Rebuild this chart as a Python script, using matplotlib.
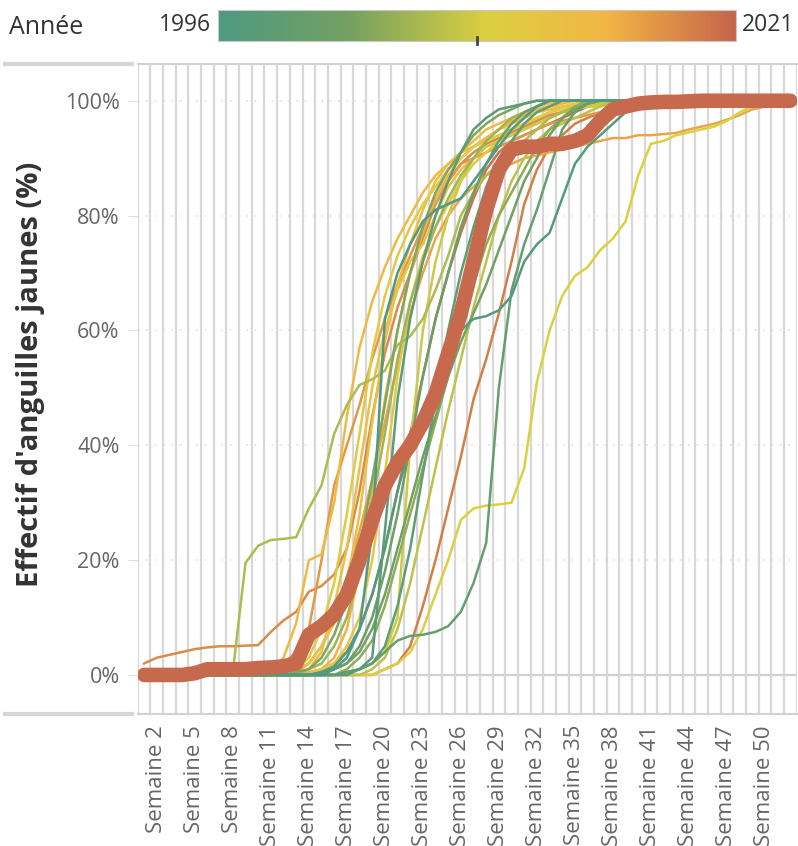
import numpy as np
import matplotlib
matplotlib.use("Agg")
import matplotlib.pyplot as plt
from matplotlib.colors import LinearSegmentedColormap
from matplotlib.lines import Line2D

plt.rcParams['font.family'] = ['Open Sans', 'DejaVu Sans']

# semaines 1..52
weeks = list(range(1, 53))
tick_weeks = list(range(2, 51, 3))
tick_labels = [f"Semaine {w}" for w in tick_weeks]

years = list(range(1996, 2022))

# effectif cumulé (%) par semaine, une liste par année
y1996 = [0, 0, 0, 0, 0, 0, 0, 0, 0, 0, 0, 0, 0, 0, 0, 1, 3, 8, 25, 62, 70, 75, 79, 81, 82, 83,
         86, 89, 92, 95, 97, 99, 100, 100, 100, 100, 100, 100, 100, 100, 100, 100, 100, 100, 100, 100, 100, 100, 100, 100, 100, 100]
y1997 = [0, 0, 0, 0, 0, 0, 0, 0, 0, 0, 0, 0, 0, 0, 0.5, 1.5, 4, 8, 14, 22, 32, 40, 46, 51, 56, 60,
         62, 62.5, 63.5, 66, 72, 75, 77, 83, 89, 92, 94, 96, 98, 99, 100, 100, 100, 100, 100, 100, 100, 100, 100, 100, 100, 100]
y1998 = [0, 0, 0, 0, 0, 0, 0, 0, 0, 0, 0, 0, 0, 0, 0, 0, 0, 1, 3, 25, 48, 62, 72, 80, 86, 91,
         95, 97, 98.5, 99, 99.5, 100, 100, 100, 100, 100, 100, 100, 100, 100, 100, 100, 100, 100, 100, 100, 100, 100, 100, 100, 100, 100]
y1999 = [0, 0, 0, 0, 0, 0, 0, 0, 0, 0, 0, 0, 0, 0, 0, 0, 0.5, 1, 2, 5, 12, 22, 35, 48, 60, 70,
         78, 85, 90, 93, 96, 98, 99, 100, 100, 100, 100, 100, 100, 100, 100, 100, 100, 100, 100, 100, 100, 100, 100, 100, 100, 100]
y2000 = [0, 0, 0, 0, 0, 0, 0, 0, 0, 0, 0, 0, 0, 0, 0, 0, 0.5, 1, 2, 4, 6, 6.8, 7, 7.5, 8.5, 11,
         16, 23, 50, 67, 75, 81, 88, 95, 98, 99.5, 100, 100, 100, 100, 100, 100, 100, 100, 100, 100, 100, 100, 100, 100, 100, 100]
y2001 = [0, 0, 0, 0, 0, 0, 0, 0, 0, 0, 0, 0, 0, 0, 0, 1, 2, 5, 10, 18, 28, 40, 52, 62, 70, 78,
         84, 89, 93, 96, 98, 99, 100, 100, 100, 100, 100, 100, 100, 100, 100, 100, 100, 100, 100, 100, 100, 100, 100, 100, 100, 100]
y2002 = [0, 0, 0, 0, 0, 0, 0, 0, 0, 0, 0, 0, 0, 0, 0.5, 1, 2, 4, 8, 14, 22, 30, 38, 45, 52, 58,
         63, 68, 74, 80, 86, 90, 94, 97, 98.5, 99.5, 100, 100, 100, 100, 100, 100, 100, 100, 100, 100, 100, 100, 100, 100, 100, 100]
y2003 = [0, 0, 0, 0, 0, 0, 0, 0, 0, 0, 0, 0, 0.5, 1, 3, 7, 13, 22, 34, 47, 60, 70, 78, 84, 88, 91,
         94, 96, 97.5, 98.5, 99.5, 100, 100, 100, 100, 100, 100, 100, 100, 100, 100, 100, 100, 100, 100, 100, 100, 100, 100, 100, 100, 100]
y2004 = [0, 0, 0, 0, 0, 0, 0, 0, 0, 0, 0, 0, 0, 0, 0, 0, 1, 3, 6, 12, 20, 28, 36, 44, 52, 60,
         68, 75, 80, 84, 88, 92, 95, 97, 99, 100, 100, 100, 100, 100, 100, 100, 100, 100, 100, 100, 100, 100, 100, 100, 100, 100]
y2005 = [0, 0, 0, 0, 0, 0, 0, 0, 0, 0, 0, 0, 0, 1, 2, 5, 10, 18, 30, 42, 55, 65, 72, 78, 83, 87,
         90, 93, 95, 97, 98, 99, 100, 100, 100, 100, 100, 100, 100, 100, 100, 100, 100, 100, 100, 100, 100, 100, 100, 100, 100, 100]
y2006 = [0, 0, 0, 0, 0, 0, 0, 0.5, 19.5, 22.5, 23.5, 23.7, 24, 29, 33, 42, 47, 50.5, 51.5, 53, 57.5, 59, 62, 67, 73, 80,
         84, 87, 89, 91, 93, 95, 97, 98, 99, 99.5, 100, 100, 100, 100, 100, 100, 100, 100, 100, 100, 100, 100, 100, 100, 100, 100]
y2007 = [0, 0, 0, 0, 0, 0, 0, 0, 0, 0, 0, 0, 0, 0, 0, 0, 0, 0, 1, 3, 8, 16, 26, 36, 46, 55,
         64, 72, 80, 86, 90, 93, 95, 96, 97, 98, 99, 100, 100, 100, 100, 100, 100, 100, 100, 100, 100, 100, 100, 100, 100, 100]
y2008 = [0, 0, 0, 0, 0, 0, 0, 0, 0, 0, 0, 0, 0, 0, 0, 0, 0, 1, 2, 4, 10, 40, 60, 72, 80, 86,
         90, 92, 93, 94, 95, 96, 97, 98, 98.5, 99, 99.5, 100, 100, 100, 100, 100, 100, 100, 100, 100, 100, 100, 100, 100, 100, 100]
y2009 = [0, 0, 0, 0, 0, 0, 0, 0, 0, 0, 0, 0, 0, 0, 0, 0, 0, 0, 0, 1, 2, 4, 8, 14, 20, 27,
         29, 29.5, 29.7, 30, 36, 51, 60, 66, 69.5, 71, 74, 76, 79, 87, 92.5, 93, 94, 94.5, 95, 95.5, 96.5, 98, 99, 99.5, 100, 100]
y2010 = [0, 0, 0, 0, 0, 0, 0, 0, 0, 0, 0, 0.5, 1, 3, 8, 16, 28, 42, 56, 66, 73, 78, 82, 85, 88, 90,
         92, 93, 94, 95, 96, 97, 98, 98.5, 99, 99, 99, 99.5, 99.5, 99.5, 100, 100, 100, 100, 100, 100, 100, 100, 100, 100, 100, 100]
y2011 = [0, 0, 0, 0, 0, 0, 0, 0, 0, 0, 0, 0, 0, 0, 1, 2, 5, 10, 20, 35, 52, 65, 73, 78, 82, 86,
         89, 91, 93, 95, 96, 97, 98, 99, 99.5, 100, 100, 100, 100, 100, 100, 100, 100, 100, 100, 100, 100, 100, 100, 100, 100, 100]
y2012 = [0, 0, 0, 0, 0, 0, 0, 0, 0, 0, 0, 0, 0.5, 1, 4, 12, 22, 36, 50, 60, 67, 72, 75, 80, 85, 88,
         90, 92, 93, 94, 95, 96, 97, 98, 98.5, 99, 99.5, 100, 100, 100, 100, 100, 100, 100, 100, 100, 100, 100, 100, 100, 100, 100]
y2013 = [0, 0, 0, 0, 0, 0, 0, 0, 0, 0, 0, 0.5, 1, 2, 5, 9, 16, 28, 44, 58, 68, 75, 81, 86, 89, 91,
         93, 95, 96, 97, 98, 99, 99.5, 100, 100, 100, 100, 100, 100, 100, 100, 100, 100, 100, 100, 100, 100, 100, 100, 100, 100, 100]
y2014 = [0, 0, 0, 0, 0, 0, 0, 0, 0, 0, 1, 3, 9, 20, 21, 30, 45, 57, 65, 71, 76, 80, 84, 87, 89, 91,
         92, 93.5, 95, 96, 97, 98, 98.5, 99, 99, 99.5, 99.5, 100, 100, 100, 100, 100, 100, 100, 100, 100, 100, 100, 100, 100, 100, 100]
y2015 = [0, 0, 0, 0, 0, 0, 0, 0, 0, 0, 0, 0, 0, 0.5, 1, 3, 8, 18, 32, 48, 60, 70, 77, 83, 87, 90,
         92, 93.5, 95, 96.5, 97.5, 98.5, 99, 99.5, 100, 100, 100, 100, 100, 100, 100, 100, 100, 100, 100, 100, 100, 100, 100, 100, 100, 100]
y2016 = [0, 0, 0, 0, 0, 0, 0, 0, 0, 0, 0, 0, 0.5, 2, 5, 10, 17, 25, 34, 44, 54, 63, 70, 76, 80, 83,
         85, 87, 88, 89, 90, 90.5, 91, 91.5, 92, 92.5, 93, 93.5, 93.5, 94, 94, 94.2, 94.4, 95, 95.5, 96, 96.7, 97.5, 98.5, 99, 99.5, 100]
y2017 = [0, 0, 0, 0, 0, 0, 0, 0, 0, 0.5, 1, 2, 4, 8, 20, 33, 40, 47, 55, 62, 68, 73, 78, 82, 86, 89,
         90, 91, 92, 93, 94, 95, 96, 96.5, 97, 97.5, 98, 98, 98.5, 98.5, 99, 99, 99, 99.5, 99.5, 99.5, 99.7, 100, 100, 100, 100, 100]
y2018 = [2, 3, 3.5, 4, 4.5, 4.8, 5, 5, 5.1, 5.2, 7.5, 9.5, 11, 14.5, 15.5, 17.5, 22, 32, 45, 56, 64, 70, 76, 82, 86, 89,
         91, 92.5, 93.5, 94.5, 95.5, 96.5, 97.5, 98, 98.5, 99, 99.3, 99.5, 99.7, 99.8, 100, 100, 100, 100, 100, 100, 100, 100, 100, 100, 100, 100]
y2019 = [0, 0, 0, 0, 0, 0, 0, 0, 0, 0, 0, 0, 0, 0, 0, 0, 0, 0, 0, 1, 2, 5, 12, 20, 29, 38,
         48, 55, 63, 72, 82, 88, 92, 94, 96, 97, 98, 99, 99.5, 100, 100, 100, 100, 100, 100, 100, 100, 100, 100, 100, 100, 100]
y2020 = [0, 0, 0, 0, 0, 0, 0, 0, 0, 0, 0, 0, 0, 0, 1, 2, 4, 8, 14, 22, 32, 42, 52, 62, 70, 77,
         83, 88, 91, 93, 94, 95, 96, 97, 98, 99, 99.5, 100, 100, 100, 100, 100, 100, 100, 100, 100, 100, 100, 100, 100, 100, 100]
y2021 = [0, 0, 0, 0, 0.3, 1, 1, 1, 1, 1.2, 1.3, 1.5, 2, 7, 8.5, 10.5, 14, 20, 27, 33, 37, 40, 44, 49, 56, 63,
         72, 81, 88, 91.5, 92, 92, 92.5, 92.5, 93, 94, 96.5, 98.5, 99, 99.5, 99.7, 99.8, 99.8, 99.9, 100, 100, 100, 100, 100, 100, 100, 100]

series = [y1996, y1997, y1998, y1999, y2000, y2001, y2002, y2003, y2004, y2005, y2006, y2007, y2008,
          y2009, y2010, y2011, y2012, y2013, y2014, y2015, y2016, y2017, y2018, y2019, y2020, y2021]

cmap = LinearSegmentedColormap.from_list(
    "annee", [(0.0, "#4e9a82"), (0.25, "#74a062"), (0.52, "#dcd040"),
              (0.75, "#f3b645"), (1.0, "#c5654b")])

W, H = 798, 846
fig = plt.figure(figsize=(W / 100, H / 100), dpi=100)

# zone du graphique (en pixels)
x0, x1 = 137.8, 796.6
ytop, ybot = 64, 714
ax = fig.add_axes([x0 / W, 1 - ybot / H, (x1 - x0) / W, (ybot - ytop) / H])
ax.set_xlim(0.5, 52.5)
ax.set_ylim(-6.8, 106.4)

# années récentes d'abord, les plus anciennes par-dessus
for yr, s in reversed(list(zip(years[:-1], series[:-1]))):
    c = cmap((yr - years[0]) / (years[-1] - years[0]))
    ax.plot(weeks, s, color=c, lw=1.8, solid_joinstyle='round', zorder=3)
ax.plot(weeks, y2021, color="#c6694d", lw=10.5, solid_capstyle='round',
        solid_joinstyle='round', zorder=5)

# grilles
ax.set_xticks([w + 0.5 for w in range(0, 53)], minor=True)
ax.grid(True, which='minor', axis='x', color='#d8d8d8', lw=1.6)
ax.set_xticks(tick_weeks)
ax.set_xticklabels(tick_labels, rotation=90, va='top', ha='center')
ax.tick_params(axis='x', which='both', length=0, labelsize=16, labelcolor='#666666', pad=8)

yt = [0, 20, 40, 60, 80, 100]
ax.set_yticks(yt)
ax.set_yticklabels([f"{v}%" for v in yt])
ax.tick_params(axis='y', length=7, color='#dddddd', labelsize=15.5, labelcolor='#666666', pad=6)
for v in yt[1:]:
    ax.axhline(v, color='#e2e2e2', lw=1.2, ls=(0, (1, 4)), zorder=1)
ax.axhline(0, color='#cfcfcf', lw=1.6, zorder=1)

for side in ['left', 'right']:
    ax.spines[side].set_visible(False)
for side in ['top', 'bottom']:
    ax.spines[side].set_color('#d2d2d2')
    ax.spines[side].set_linewidth(1.5)

# traits gris à gauche, en haut et en bas
for yy in [ytop, ybot]:
    fig.add_artist(Line2D([5 / W, 132 / W], [1 - yy / H, 1 - yy / H], color='#d5d5d5', lw=3))

fig.text(31 / W, 1 - 374 / H, "Effectif d'anguilles jaunes (%)", rotation=90,
         ha='center', va='center', fontsize=21, fontweight='bold', color='#333333')

# légende en dégradé
cax = fig.add_axes([218 / W, 1 - 41 / H, (736 - 218) / W, 31 / H])
cax.imshow(np.linspace(0, 1, 256)[None, :], aspect='auto', cmap=cmap)
cax.set_xticks([])
cax.set_yticks([])
for sp in cax.spines.values():
    sp.set_color('#c8c8c8')
fig.add_artist(Line2D([477 / W, 477 / W], [1 - 37 / H, 1 - 44 / H], color='#444444', lw=2))
fig.text(9 / W, 1 - 27 / H, "Année", fontsize=18, ha='left', va='center', color='#333333')
fig.text(211 / W, 1 - 25 / H, str(years[0]), fontsize=16.5, ha='right', va='center', color='#333333')
fig.text(742 / W, 1 - 25 / H, str(years[-1]), fontsize=16.5, ha='left', va='center', color='#333333')

fig.savefig("out.png", dpi=100)
